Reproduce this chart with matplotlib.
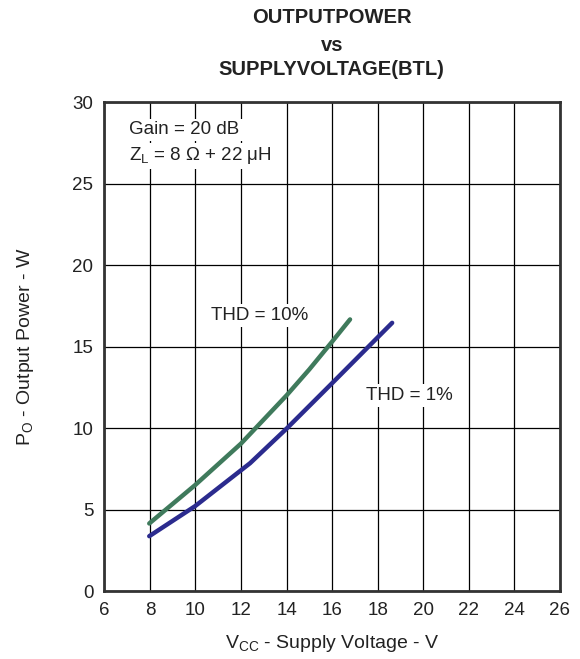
import matplotlib
matplotlib.use("Agg")
from matplotlib import pyplot as plt

plt.rcParams['font.family'] = ['Liberation Sans', 'DejaVu Sans']

# THD = 10 %
vcc_10 = [7.97, 9.98, 12.0, 14.01, 15.0, 16.0, 16.79]
po_10 = [4.15, 6.5, 9.05, 12.02, 13.6, 15.3, 16.67]

# THD = 1 %
vcc_1 = [7.97, 9.98, 12.4, 14.01, 15.99, 17.23, 18.64]
po_1 = [3.37, 5.21, 7.85, 9.98, 12.74, 14.48, 16.46]

x_ticks = list(range(6, 27, 2))
y_ticks = list(range(0, 31, 5))

fig = plt.figure(figsize=(5.8, 6.59), dpi=100)
ax = fig.add_axes([0.180, 0.103, 0.785, 0.742])

ax.plot(vcc_10, po_10, color="#3f7a5c", lw=3.2, solid_capstyle="round", zorder=3)
ax.plot(vcc_1, po_1, color="#2b2b8e", lw=3.2, solid_capstyle="round", zorder=3)

ax.set_xlim(6, 26)
ax.set_ylim(0, 30)
ax.set_xticks(x_ticks)
ax.set_yticks(y_ticks)
ax.grid(True, color="black", lw=0.9)
ax.tick_params(length=0, labelsize=13.5, colors="#222222", pad=8)
for s in ax.spines.values():
    s.set_linewidth(2)
    s.set_color("#333333")

ax.set_xlabel("V$_{\\mathregular{CC}}$ - Supply Voltage - V", fontsize=14, labelpad=10, color="#222222")
ax.set_ylabel("P$_{\\mathregular{O}}$ - Output Power - W", fontsize=14, labelpad=26, color="#222222")

box = dict(facecolor="white", edgecolor="none", pad=2)
ax.text(7.1, 28.3, "Gain = 20 dB", fontsize=13.5, va="center", ha="left", bbox=box, color="#222222")
ax.text(7.1, 26.7, "Z$_{\\mathregular{L}}$ = 8 \u03a9 + 22 \u03bcH", fontsize=13.5, va="center", ha="left",
        bbox=box, color="#222222")
ax.text(12.8, 16.9, "THD = 10%", fontsize=13.5, va="center", ha="center", bbox=box, color="#222222")
ax.text(19.4, 12.0, "THD = 1%", fontsize=13.5, va="center", ha="center", bbox=box, color="#222222")

fig.text(0.572, 0.974, "OUTPUTPOWER", fontsize=14.5, weight="bold", ha="center", va="center", color="#222222")
fig.text(0.572, 0.931, "vs", fontsize=14.5, weight="bold", ha="center", va="center", color="#222222")
fig.text(0.572, 0.894, "SUPPLYVOLTAGE(BTL)", fontsize=14.5, weight="bold", ha="center", va="center", color="#222222")

fig.savefig("out.png", dpi=100)
